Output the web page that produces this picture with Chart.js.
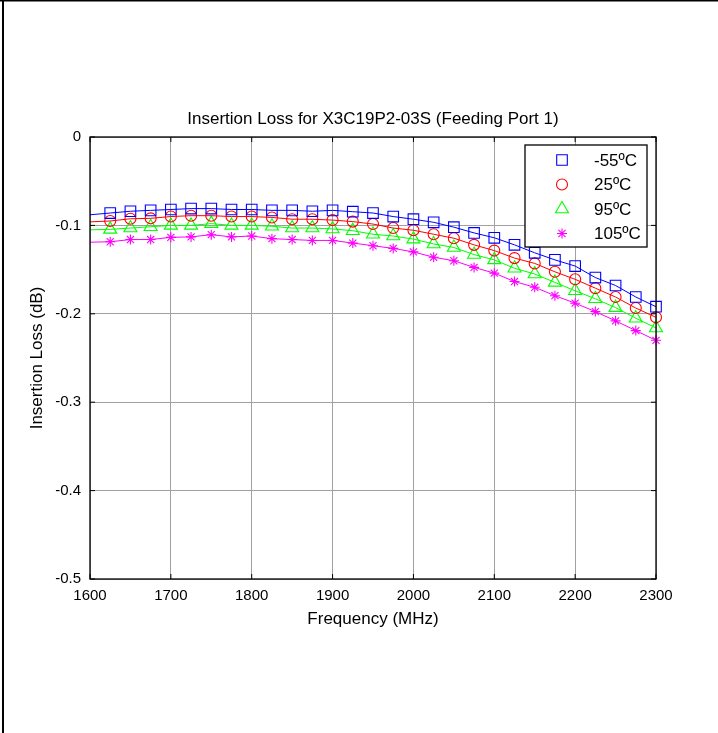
<!DOCTYPE html>
<html>
<head>
<meta charset="utf-8">
<script src="https://cdn.jsdelivr.net/npm/chart.js@4/dist/chart.umd.min.js"></script>
<style>
  html, body { margin: 0; padding: 0; background: #fff; }
  #wrap { width: 718px; height: 733px; }
</style>
</head>
<body>
<div id="wrap"><canvas id="lossChart" width="718" height="733"></canvas></div>
<script>
// frequency points (MHz); first point only carries the line, markers start at 1625
const freqs = [1600, 1625, 1650, 1675, 1700, 1725, 1750, 1775, 1800, 1825, 1850, 1875, 1900, 1925, 1950,
               1975, 2000, 2025, 2050, 2075, 2100, 2125, 2150, 2175, 2200, 2225, 2250, 2275, 2300];

const lossM55 = [-0.088, -0.086, -0.084, -0.083, -0.082, -0.081, -0.081, -0.082, -0.082, -0.083, -0.083, -0.084, -0.083, -0.0845, -0.086,
                 -0.090, -0.093, -0.0965, -0.102, -0.1085, -0.114, -0.122, -0.131, -0.139, -0.146, -0.159, -0.168, -0.181, -0.192];
const loss25  = [-0.096, -0.095, -0.0925, -0.092, -0.090, -0.089, -0.089, -0.090, -0.090, -0.091, -0.093, -0.093, -0.094, -0.0957, -0.0985,
                 -0.103, -0.1055, -0.110, -0.1145, -0.122, -0.1285, -0.137, -0.143, -0.1525, -0.161, -0.171, -0.181, -0.1935, -0.204];
const loss95  = [-0.105, -0.1045, -0.103, -0.1015, -0.100, -0.100, -0.098, -0.100, -0.100, -0.101, -0.103, -0.103, -0.104, -0.106, -0.110,
                 -0.112, -0.1155, -0.121, -0.125, -0.133, -0.139, -0.1485, -0.155, -0.1645, -0.174, -0.183, -0.193, -0.205, -0.216];
const loss105 = [-0.119, -0.1185, -0.116, -0.116, -0.1135, -0.113, -0.1105, -0.113, -0.112, -0.115, -0.116, -0.117, -0.117, -0.120, -0.123,
                 -0.126, -0.130, -0.136, -0.140, -0.1475, -0.154, -0.1635, -0.170, -0.1795, -0.188, -0.1975, -0.208, -0.219, -0.230];

const seriesLabels = ['-55ºC', '25ºC', '95ºC', '105ºC'];
const xTicks = [1600, 1700, 1800, 1900, 2000, 2100, 2200, 2300];
const yTicks = [0, -0.1, -0.2, -0.3, -0.4, -0.5];
const yTickLabels = ['0', '-0.1', '-0.2', '-0.3', '-0.4', '-0.5'];

const FONT = '"Liberation Sans", Arial, Helvetica, sans-serif';

function makeSet(label, values, color, style, r) {
  return {
    label,
    data: freqs.map((f, i) => ({ x: f, y: values[i] })),
    borderColor: color,
    backgroundColor: 'rgba(0,0,0,0)',
    borderWidth: 1,
    pointStyle: style,
    pointRadius: c => c.dataIndex === 0 ? 0 : r,
    markerSize: r,
    pointBorderColor: color,
    pointBackgroundColor: 'rgba(0,0,0,0)',
    pointBorderWidth: 1.1,
    tension: 0,
    clip: false
  };
}

// axes box, inward ticks, texts, legend, outer frame
const decor = {
  id: 'decor',
  beforeDraw(chart) {
    const { ctx } = chart;
    ctx.save();
    ctx.fillStyle = '#fff';
    ctx.fillRect(0, 0, chart.width, chart.height);
    ctx.restore();
  },
  afterDatasetsDraw(chart) {
    const { ctx, chartArea: a, scales } = chart;
    ctx.save();

    // legend box
    const lx = 525, ly = 145, lw = 122, lh = 102;
    ctx.fillStyle = '#fff';
    ctx.fillRect(lx, ly, lw, lh);
    ctx.strokeStyle = '#000';
    ctx.lineWidth = 1.3;
    ctx.strokeRect(lx, ly, lw, lh);
    ctx.font = '17px ' + FONT;
    ctx.textBaseline = 'middle';
    ctx.textAlign = 'left';
    chart.data.datasets.forEach((ds, i) => {
      const y = ly + 15 + i * 24.5;
      ctx.strokeStyle = ds.pointBorderColor;
      ctx.fillStyle = 'rgba(0,0,0,0)';
      ctx.lineWidth = 1.1;
      Chart.helpers.drawPoint(ctx, { pointStyle: ds.pointStyle, radius: ds.markerSize, borderWidth: 1.1, rotation: 0 }, 562, y);
      ctx.fillStyle = '#000';
      ctx.fillText(ds.label, 594, y + 1);
    });

    // axes box
    ctx.strokeStyle = '#000';
    ctx.lineWidth = 1.3;
    ctx.strokeRect(a.left, a.top, a.right - a.left, a.bottom - a.top);

    // inward ticks on all sides
    ctx.lineWidth = 1;
    ctx.beginPath();
    xTicks.forEach(v => {
      const x = scales.x.getPixelForValue(v);
      ctx.moveTo(x, a.bottom); ctx.lineTo(x, a.bottom - 5);
      ctx.moveTo(x, a.top); ctx.lineTo(x, a.top + 5);
    });
    yTicks.forEach(v => {
      const y = scales.y.getPixelForValue(v);
      ctx.moveTo(a.left, y); ctx.lineTo(a.left + 5, y);
      ctx.moveTo(a.right, y); ctx.lineTo(a.right - 5, y);
    });
    ctx.stroke();

    // title and axis titles
    ctx.fillStyle = '#000';
    ctx.font = '17px ' + FONT;
    ctx.textAlign = 'center';
    ctx.textBaseline = 'alphabetic';
    const cx = (a.left + a.right) / 2;
    ctx.fillText('Insertion Loss for X3C19P2-03S (Feeding Port 1)', cx, 124);
    ctx.fillText('Frequency (MHz)', cx, 624);
    ctx.save();
    ctx.translate(42, (a.top + a.bottom) / 2);
    ctx.rotate(-Math.PI / 2);
    ctx.fillText('Insertion Loss (dB)', 0, 0);
    ctx.restore();

    // outer frame (left and top edges only)
    ctx.fillStyle = '#000';
    ctx.fillRect(2, 0, 2, chart.height);
    ctx.fillRect(0, 0, chart.width, 1.5);
    ctx.restore();
  }
};

new Chart(document.getElementById('lossChart').getContext('2d'), {
  type: 'line',
  data: {
    datasets: [
      makeSet(seriesLabels[0], lossM55, '#0000ff', 'rect', 7.5),
      makeSet(seriesLabels[1], loss25, '#ff0000', 'circle', 5.5),
      makeSet(seriesLabels[2], loss95, '#00ff00', 'triangle', 7.5),
      makeSet(seriesLabels[3], loss105, '#ff00ff', 'star', 5)
    ]
  },
  options: {
    responsive: false,
    animation: false,
    events: [],
    layout: { padding: { left: 0, top: 137, right: 62, bottom: 0 } },
    plugins: {
      legend: { display: false },
      title: { display: false },
      tooltip: { enabled: false }
    },
    scales: {
      x: {
        type: 'linear',
        min: 1600,
        max: 2300,
        afterFit: s => { s.height = 154; },
        afterBuildTicks: s => { s.ticks = xTicks.map(v => ({ value: v })); },
        ticks: { color: '#000', font: { family: FONT, size: 15 }, padding: 8, maxRotation: 0,
                 callback: v => String(v) },
        grid: { color: '#a0a0a0', lineWidth: 1, drawTicks: false },
        border: { display: false }
      },
      y: {
        min: -0.5,
        max: 0,
        afterFit: s => { s.width = 90; },
        afterBuildTicks: s => { s.ticks = yTicks.map(v => ({ value: v })); },
        ticks: { color: '#000', font: { family: FONT, size: 15 }, padding: 9,
                 callback: v => yTickLabels[yTicks.indexOf(Number(v.toFixed(1)))] ?? '' },
        grid: { color: '#a0a0a0', lineWidth: 1, drawTicks: false },
        border: { display: false }
      }
    }
  },
  plugins: [decor]
});
</script>
</body>
</html>
